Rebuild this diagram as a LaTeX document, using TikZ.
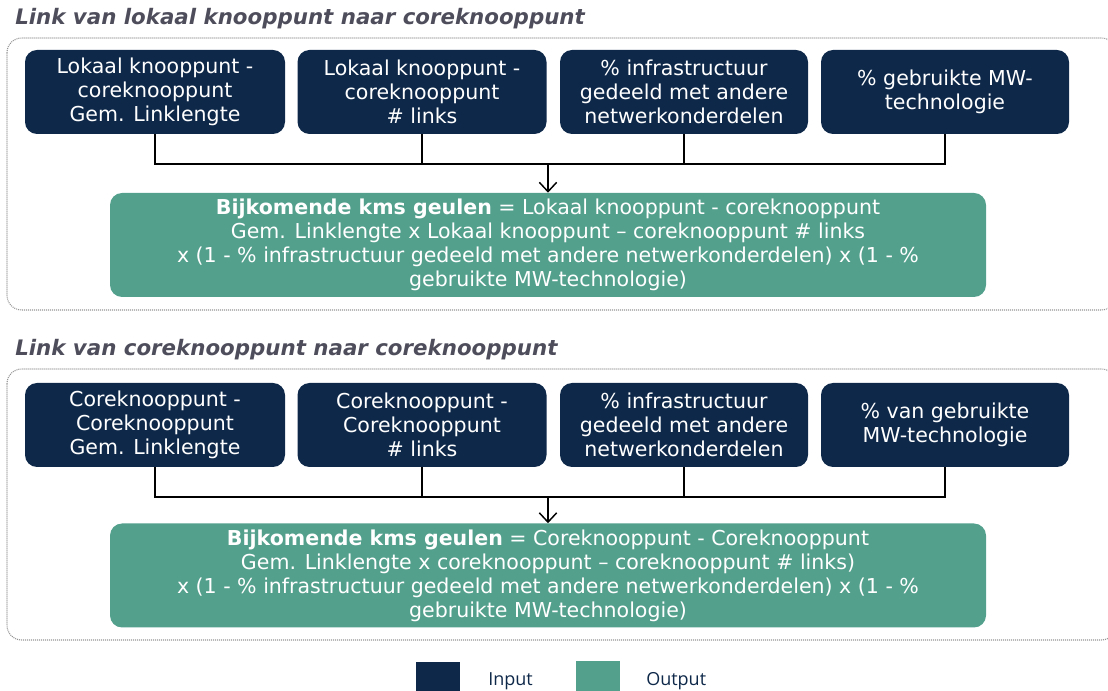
\documentclass[tikz,border=0pt]{standalone}
\usepackage{fontspec}
\setmainfont{DejaVu Sans}
\newfontfamily\legendfont{Open Sans}
\usepackage{xcolor}
\usepackage{tikz}
\usetikzlibrary{arrows.meta}

\definecolor{navyin}{RGB}{14,40,73}
\definecolor{greenout}{RGB}{83,160,141}
\definecolor{kopgrey}{RGB}{77,77,92}

\tikzset{
  inbox/.style={draw=none, fill=navyin, text=white, rounded corners=9pt, align=center,
    inner sep=0pt, minimum height=63pt, font=\fontsize{15.4}{18}\selectfont},
  outbox/.style={draw=none, fill=greenout, text=white, rounded corners=9pt, align=center,
    inner sep=0pt, minimum width=657pt, minimum height=78pt, font=\fontsize{15.4}{18}\selectfont},
  linkline/.style={draw=black, line width=1pt},
  pijl/.style={linkline, -{Straight Barb[length=7pt,width=13pt,line width=1.1pt]}},
  frame/.style={draw=gray!85, line width=0.8pt, dash pattern=on 0.75pt off 0.75pt, rounded corners=11pt},
  kopje/.style={anchor=west, inner sep=0pt, text=kopgrey, font=\fontsize{16}{18}\bfseries\itshape},
  keybox/.style={draw=none, minimum width=33pt, minimum height=28.5pt, inner sep=0pt},
  keytext/.style={anchor=west, inner sep=0pt, text=navyin, font=\legendfont\fontsize{13.5}{16}\selectfont}
}

\begin{document}
\begin{tikzpicture}[x=0.75pt,y=0.75pt,yscale=-1,xscale=1]
\useasboundingbox (0,0) rectangle (1108,691);
\clip (0,0) rectangle (1108,691);

%% ---- deel 1: lokaal knooppunt -> coreknooppunt
% Text Node
\node[kopje] (kop1) at (15,19) {Link van lokaal knooppunt naar coreknooppunt};
%Shape: Rectangle
\draw[frame] (7,38) rectangle (1116,310);

% input boxes
\node[inbox, minimum width=195pt] (in11) at (155,92) {Lokaal knooppunt -\\coreknooppunt\\Gem. Linklengte};
\node[inbox, minimum width=186.75pt] (in12) at (422,92) {Lokaal knooppunt -\\coreknooppunt\\\# links};
\node[inbox, minimum width=186pt] (in13) at (684,92) {\% infrastructuur\\gedeeld met andere\\netwerkonderdelen};
\node[inbox, minimum width=186pt] (in14) at (945,92) {\% gebruikte MW-\\technologie};

% output box
\node[outbox] (out1) at (548,245) {\textbf{Bijkomende kms geulen} = Lokaal knooppunt - coreknooppunt\\
  Gem. Linklengte x Lokaal knooppunt – coreknooppunt \# links\\
  x (1 - \% infrastructuur gedeeld met andere netwerkonderdelen) x (1 - \%\\
  gebruikte MW-technologie)};

%Straight Lines
\coordinate (join1) at (548,164);
\draw[linkline] (in11.south) |- (join1);
\draw[linkline] (in12.south) |- (join1);
\draw[linkline] (in13.south) |- (join1);
\draw[linkline] (in14.south) |- (join1);
\draw[pijl] (join1) -- (out1.north);

%% ---- deel 2: coreknooppunt -> coreknooppunt
% Text Node
\node[kopje] (kop2) at (15,350) {Link van coreknooppunt naar coreknooppunt};
%Shape: Rectangle
\draw[frame] (7,369) rectangle (1116,640);

% input boxes
\node[inbox, minimum width=195pt] (in21) at (155,425) {Coreknooppunt -\\Coreknooppunt\\Gem. Linklengte};
\node[inbox, minimum width=186.75pt] (in22) at (422,425) {Coreknooppunt -\\Coreknooppunt\\\# links};
\node[inbox, minimum width=186pt] (in23) at (684,425) {\% infrastructuur\\gedeeld met andere\\netwerkonderdelen};
\node[inbox, minimum width=186pt] (in24) at (945,425) {\% van gebruikte\\MW-technologie};

% output box
\node[outbox] (out2) at (548,575.5) {\textbf{Bijkomende kms geulen} = Coreknooppunt - Coreknooppunt\\
  Gem. Linklengte x coreknooppunt – coreknooppunt \# links)\\
  x (1 - \% infrastructuur gedeeld met andere netwerkonderdelen) x (1 - \%\\
  gebruikte MW-technologie)};

%Straight Lines
\coordinate (join2) at (548,497);
\draw[linkline] (in21.south) |- (join2);
\draw[linkline] (in22.south) |- (join2);
\draw[linkline] (in23.south) |- (join2);
\draw[linkline] (in24.south) |- (join2);
\draw[pijl] (join2) -- (out2.north);

%% ---- legenda
\node[keybox, fill=navyin] (keyin) at (438,681) {};
\node[keytext] (keyintxt) at (488,681) {Input};
\node[keybox, fill=greenout] (keyout) at (597.5,680.5) {};
\node[keytext] (keyouttxt) at (646,681) {Output};

\end{tikzpicture}
\end{document}
